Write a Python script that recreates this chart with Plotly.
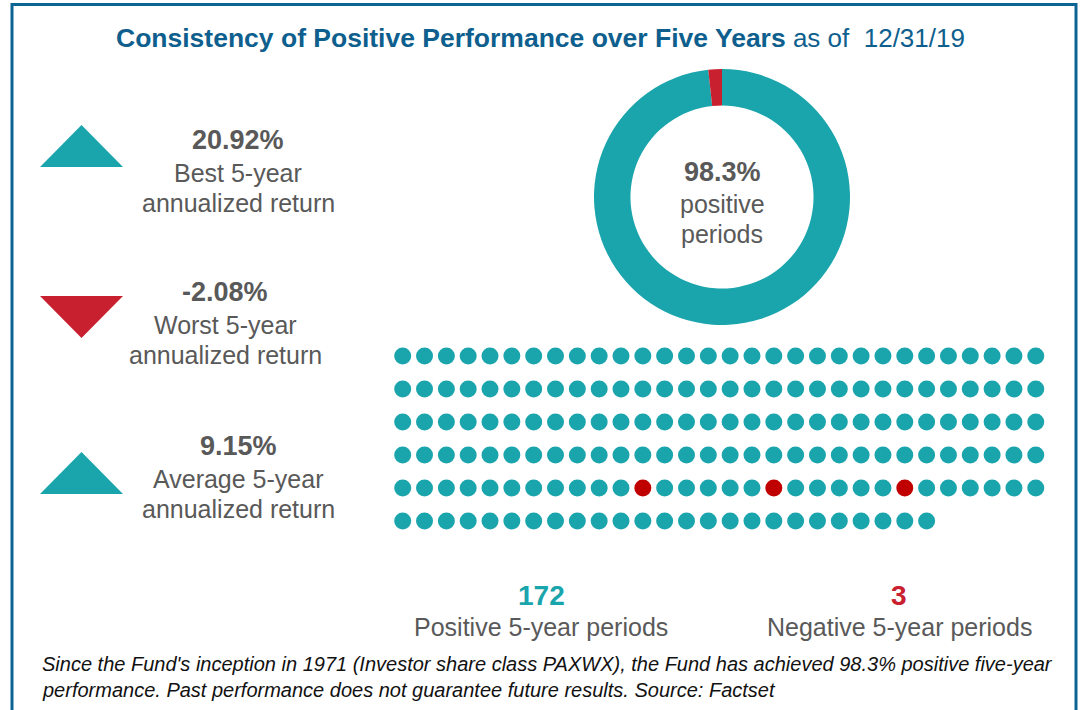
import plotly.graph_objects as go

# ---- data ----
title_main = "Consistency of Positive Performance over Five Years"
title_date = "12/31/19"
stat_values = ["20.92%", "-2.08%", "9.15%"]
stat_labels = [["Best 5-year", "annualized return"],
               ["Worst 5-year", "annualized return"],
               ["Average 5-year", "annualized return"]]
stat_direction = ["up", "down", "up"]
positive_periods = 172
negative_periods = 3
negative_positions = [131, 137, 143]   # index in the dot grid (row-major)
pct_positive = "98.3%"
footer = ["Since the Fund's inception in 1971 (Investor share class PAXWX), the Fund has achieved 98.3% positive five-year",
          "performance. Past performance does not guarantee future results. Source: Factset"]

TEAL = "#1AA5AD"
RED = "#C8202F"
DOT_RED = "#C00000"
GRAY = "#595959"
BLUE = "#0E5F8E"
W, H = 1082, 710

fig = go.Figure()

# ---- donut ----
cx, cy, r = 722, 197, 128
fig.add_trace(go.Pie(
    values=[positive_periods, negative_periods],
    labels=["Positive", "Negative"],
    marker=dict(colors=[TEAL, RED], line=dict(width=0)),
    hole=0.715, sort=False, direction="clockwise", rotation=0,
    textinfo="none", hoverinfo="label+value", showlegend=False,
    domain=dict(x=[(cx - r) / W, (cx + r) / W],
                y=[(H - cy - r) / H, (H - cy + r) / H]),
))

# ---- dot grid ----
total = positive_periods + negative_periods
ncol = 30
x0, dx = 402.7, 21.83
y0, dy = 356, 33
xs, ys, cs = [], [], []
for i in range(total):
    row, col = divmod(i, ncol)
    xs.append(x0 + col * dx)
    ys.append(y0 + row * dy)
    cs.append(DOT_RED if i in negative_positions else TEAL)
fig.add_trace(go.Scatter(x=xs, y=ys, mode="markers",
                         marker=dict(size=17, color=cs, line=dict(width=0)),
                         hoverinfo="skip", showlegend=False))

shapes = []
annotations = []

def txt(x, y, s, size, color=GRAY, bold=False, italic=False, family="Liberation Sans", xanchor="center"):
    if bold:
        s = "<b>" + s + "</b>"
    if italic:
        s = "<i>" + s + "</i>"
    annotations.append(dict(x=x, y=y, xref="x", yref="y", text=s, showarrow=False,
                            xanchor=xanchor, yanchor="middle",
                            font=dict(size=size, color=color, family=family)))

# ---- title ----
annotations.append(dict(
    x=540, y=38, xref="x", yref="y", showarrow=False, xanchor="center", yanchor="middle",
    text=f"<b>{title_main}</b><span style='font-size:26px'> as of  {title_date}</span>",
    font=dict(size=26.5, color=BLUE, family="Liberation Sans")))

# ---- left stats ----
stat_y = [140, 292, 446]
stat_cx = [238, 225, 238]
tri_cy = [146, 317, 473]
for v, lab, d, yy, xc, ty in zip(stat_values, stat_labels, stat_direction, stat_y, stat_cx, tri_cy):
    txt(xc, yy, v, 27, bold=True)
    txt(xc, yy + 33, lab[0], 25)
    txt(xc, yy + 63, lab[1], 25)
    if d == "up":
        path = f"M 40 {ty+21} L 81.5 {ty-21} L 123 {ty+21} Z"
        col = TEAL
    else:
        path = f"M 40 {ty-21} L 81.5 {ty+21} L 123 {ty-21} Z"
        col = RED
    shapes.append(dict(type="path", path=path, xref="x", yref="y",
                       fillcolor=col, line=dict(width=0)))

# ---- donut centre text ----
txt(cx, 172, pct_positive, 27, bold=True)
txt(cx, 204, "positive", 25)
txt(cx, 234, "periods", 25)

# ---- counts ----
txt(541, 595, str(positive_periods), 28, color=TEAL, bold=True)
txt(541, 627, "Positive 5-year periods", 25)
txt(899, 595, str(negative_periods), 28, color=RED, bold=True)
txt(899, 627, "Negative 5-year periods", 25)

# ---- footer ----
txt(40, 664, footer[0], 20, color="#111111", italic=True, xanchor="left")
txt(40, 690, footer[1], 20, color="#111111", italic=True, xanchor="left")

# ---- border ----
shapes.append(dict(type="path", path="M 12 720 L 12 4.5 L 1076 4.5 L 1076 720",
                   xref="x", yref="y", line=dict(color="#0A6494", width=3)))

fig.update_layout(
    width=W, height=H, margin=dict(l=0, r=0, t=0, b=0),
    paper_bgcolor="white", plot_bgcolor="white",
    xaxis=dict(range=[0, W], visible=False, fixedrange=True),
    yaxis=dict(range=[H, 0], visible=False, fixedrange=True),
    shapes=shapes, annotations=annotations,
)
fig.write_html("out.html", config={"displayModeBar": False},
               post_script="document.body.style.margin='0px';document.body.style.overflow='hidden';")
